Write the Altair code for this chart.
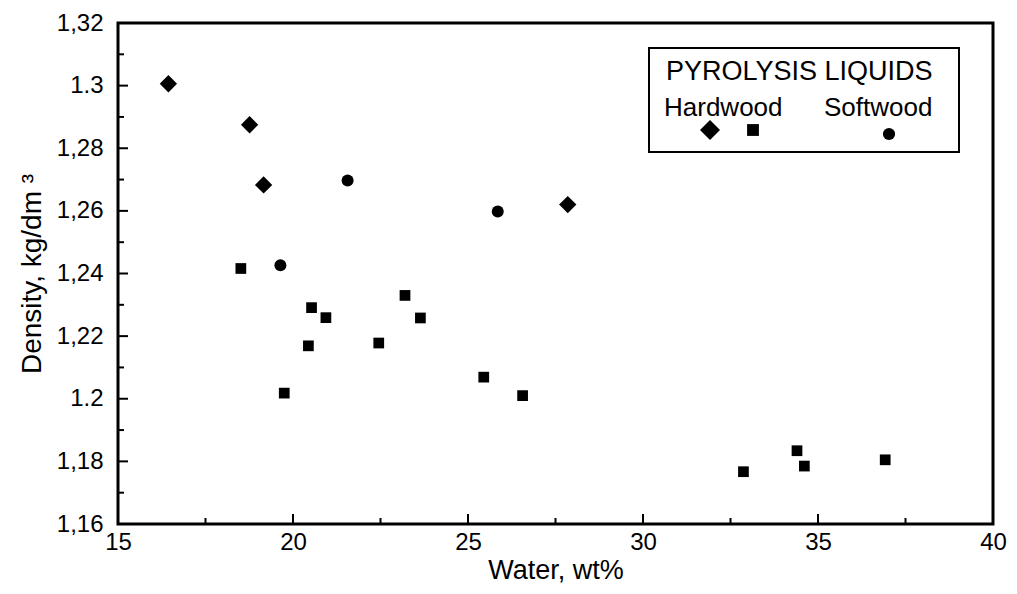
import altair as alt
import pandas as pd

# ---- data ----
hw_diamond_water = [16.44, 18.76, 19.16, 27.85]
hw_diamond_density = [1.3006, 1.2875, 1.2683, 1.2620]

hw_square_water = [18.51, 20.53, 20.94, 20.44, 19.75, 22.45, 23.20, 23.64,
                   25.45, 26.56, 32.87, 34.40, 34.61, 36.92]
hw_square_density = [1.2416, 1.2291, 1.2259, 1.2169, 1.2018, 1.2178, 1.2330, 1.2258,
                     1.2069, 1.2010, 1.1767, 1.1834, 1.1785, 1.1805]

sw_circle_water = [21.56, 25.85, 19.64]
sw_circle_density = [1.2697, 1.2598, 1.2426]

x_tick_values = [15, 20, 25, 30, 35, 40]
x_minor_ticks = [17.5, 22.5, 27.5, 32.5, 37.5]
x_major_inner = [20, 25, 30, 35]
y_tick_values = [1.16, 1.18, 1.20, 1.22, 1.24, 1.26, 1.28, 1.30, 1.32]
y_tick_labels = ["1,16", "1,18", "1.2", "1,22", "1,24", "1,26", "1,28", "1.3", "1,32"]
y_minor_ticks = [1.17, 1.19, 1.21, 1.23, 1.25, 1.27, 1.29, 1.31]
y_major_inner = [1.18, 1.20, 1.22, 1.24, 1.26, 1.28, 1.30]

FONT = "Liberation Sans"
W, H = 875, 501

xs = alt.Scale(domain=[15, 40], nice=False, zero=False)
ys = alt.Scale(domain=[1.16, 1.32], nice=False, zero=False)

label_arr = "[" + ",".join("'%s'" % s for s in y_tick_labels) + "]"
label_expr = label_arr + "[round((datum.value-1.16)/0.02)]"

x_axis = alt.Axis(values=x_tick_values, grid=False,
                  domain=False, ticks=False, labelPadding=6,
                  labelFontSize=24, titleFontSize=27, titlePadding=3,
                  titleFontWeight="normal", labelFont=FONT, titleFont=FONT,
                  labelColor="black", titleColor="black", labelFlush=False)
y_axis = alt.Axis(values=y_tick_values, labelExpr=label_expr,
                  grid=False, domain=False, ticks=False,
                  labelPadding=15, labelFontSize=24, titleFontSize=28,
                  titlePadding=10, titleFontWeight="normal", labelFont=FONT,
                  titleFont=FONT, labelColor="black", titleColor="black",
                  labelFlush=False)
X_TITLE = "Water, wt%"
Y_TITLE = "Density, kg/dm ³"


def series(xv, yv, shape, size):
    d = pd.DataFrame({"water": xv, "density": yv})
    return alt.Chart(d).mark_point(shape=shape, filled=True, opacity=1, color="black",
                                   size=size).encode(
        x=alt.X("water:Q", scale=xs, axis=x_axis, title=X_TITLE),
        y=alt.Y("density:Q", scale=ys, axis=y_axis, title=Y_TITLE),
    )


one = pd.DataFrame({"a": [0]})

frame = alt.Chart(one).mark_rect(fill="white", stroke="black", strokeWidth=3).encode(
    x=alt.value(0), x2=alt.value(W), y=alt.value(0), y2=alt.value(H))


def xticks(vals, length):
    return alt.Chart(pd.DataFrame({"v": vals})).mark_rule(color="black", strokeWidth=2).encode(
        x=alt.X("v:Q", scale=xs, axis=x_axis, title=X_TITLE),
        y=alt.value(H), y2=alt.value(H - length))


def yticks(vals, length):
    return alt.Chart(pd.DataFrame({"v": vals})).mark_rule(color="black", strokeWidth=2).encode(
        y=alt.Y("v:Q", scale=ys, axis=y_axis, title=Y_TITLE),
        x=alt.value(0), x2=alt.value(length))


legend_box = alt.Chart(one).mark_rect(fill="white", stroke="black", strokeWidth=2).encode(
    x=alt.value(531), x2=alt.value(841), y=alt.value(25), y2=alt.value(129))


def text(t, x, y, size=26):
    return alt.Chart(one).mark_text(text=t, font=FONT, fontSize=size, align="left",
                                    baseline="alphabetic", color="black").encode(
        x=alt.value(x), y=alt.value(y))


def sym(shape, x, y, size):
    return alt.Chart(one).mark_point(shape=shape, filled=True, opacity=1, color="black",
                                     size=size).encode(x=alt.value(x), y=alt.value(y))


chart = alt.layer(
    frame,
    series(hw_diamond_water, hw_diamond_density, "diamond", 300),
    series(hw_square_water, hw_square_density, "square", 115),
    series(sw_circle_water, sw_circle_density, "circle", 144),
    xticks(x_major_inner, 10), xticks(x_minor_ticks, 6),
    yticks(y_major_inner, 10), yticks(y_minor_ticks, 6),
    legend_box,
    text("PYROLYSIS LIQUIDS", 548, 57, 27),
    text("Hardwood", 546, 93),
    text("Softwood", 706, 93),
    sym("diamond", 592, 107, 400),
    sym("square", 635, 107, 140),
    sym("circle", 771, 111, 150),
).properties(
    width=W, height=H,
    autosize=alt.AutoSizeParams(type="none"),
    padding={"left": 110, "top": 15, "right": 16, "bottom": 62},
    background="white",
).configure_view(stroke=None).configure(font=FONT)

chart.save("out.html", embed_options={"renderer": "svg", "actions": False})
